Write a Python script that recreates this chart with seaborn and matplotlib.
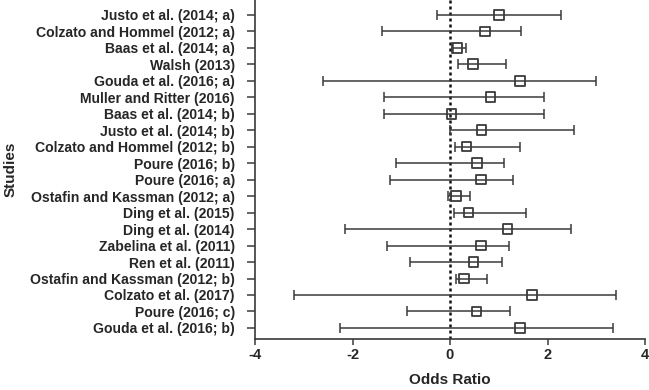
import matplotlib
matplotlib.use("Agg")
import matplotlib.pyplot as plt
import seaborn as sns
import pandas as pd
import numpy as np

studies = ["Justo et al. (2014; a)", "Colzato and Hommel (2012; a)", "Baas et al. (2014; a)",
           "Walsh (2013)", "Gouda et al. (2016; a)", "Muller and Ritter (2016)",
           "Baas et al. (2014; b)", "Justo et al. (2014; b)", "Colzato and Hommel (2012; b)",
           "Poure (2016; b)", "Poure (2016; a)", "Ostafin and Kassman (2012; a)",
           "Ding et al. (2015)", "Ding et al. (2014)", "Zabelina et al. (2011)",
           "Ren et al. (2011)", "Ostafin and Kassman (2012; b)", "Colzato et al. (2017)",
           "Poure (2016; c)", "Gouda et al. (2016; b)"]
odds = [1.00, 0.72, 0.14, 0.47, 1.43, 0.83, 0.03, 0.65, 0.34, 0.55,
        0.64, 0.12, 0.38, 1.18, 0.63, 0.48, 0.29, 1.68, 0.54, 1.43]
lower = [-0.27, -1.39, 0.07, 0.17, -2.60, -1.35, -1.35, 0.00, 0.10, -1.10,
         -1.23, -0.05, 0.08, -2.16, -1.29, -0.83, 0.12, -3.21, -0.88, -2.26]
upper = [2.27, 1.46, 0.32, 1.14, 3.00, 1.93, 1.93, 2.54, 1.44, 1.10,
         1.29, 0.41, 1.56, 2.48, 1.20, 1.06, 0.76, 3.41, 1.24, 3.34]
xticks = [-4, -2, 0, 2, 4]

df = pd.DataFrame({"study": studies, "odds": odds, "lower": lower, "upper": upper})
df["pos"] = np.arange(len(df))

sns.set_style("ticks")
plt.rcParams["font.family"] = ["Liberation Sans", "DejaVu Sans"]

fig = plt.figure(figsize=(6.49, 3.9), dpi=100)
ax = fig.add_axes([255 / 649, 1 - 339 / 390, 390 / 649, 339 / 390])

lc = "#3a3a3a"
ax.axvline(0, color="#111111", linestyle=(0, (1.2, 1.2)), linewidth=1.8, zorder=1)
ax.errorbar(df["odds"], df["pos"],
            xerr=[df["odds"] - df["lower"], df["upper"] - df["odds"]],
            fmt="none", ecolor=lc, elinewidth=1.1, capsize=3.3, capthick=1.1, zorder=2)
sns.scatterplot(data=df, x="odds", y="pos", marker="s", s=48, facecolor="none",
                edgecolor=lc, linewidth=1.3, ax=ax, zorder=3, legend=False)

ax.set_xlim(-4, 4)
ax.set_ylim(len(df) - 0.33, -0.9)
ax.set_xticks(xticks)
ax.set_xticklabels([str(t) for t in xticks], fontsize=10.5, fontweight="bold")
ax.set_yticks(df["pos"])
ax.set_yticklabels(df["study"], fontsize=10.1, fontweight="bold")
ax.tick_params(axis="y", length=5.5, width=1.1, color=lc, pad=9)
ax.tick_params(axis="x", length=4.5, width=1.1, color=lc, pad=2)
for s in ["top", "right"]:
    ax.spines[s].set_visible(False)
for s in ["left", "bottom"]:
    ax.spines[s].set_color(lc)
    ax.spines[s].set_linewidth(1.2)

ax.set_xlabel("Odds Ratio", fontsize=11, fontweight="bold", labelpad=8)
ax.set_ylabel("Studies", fontsize=11, fontweight="bold")
ax.yaxis.set_label_coords(-237 / 390, 0.5)

fig.savefig("out.png", dpi=100)
